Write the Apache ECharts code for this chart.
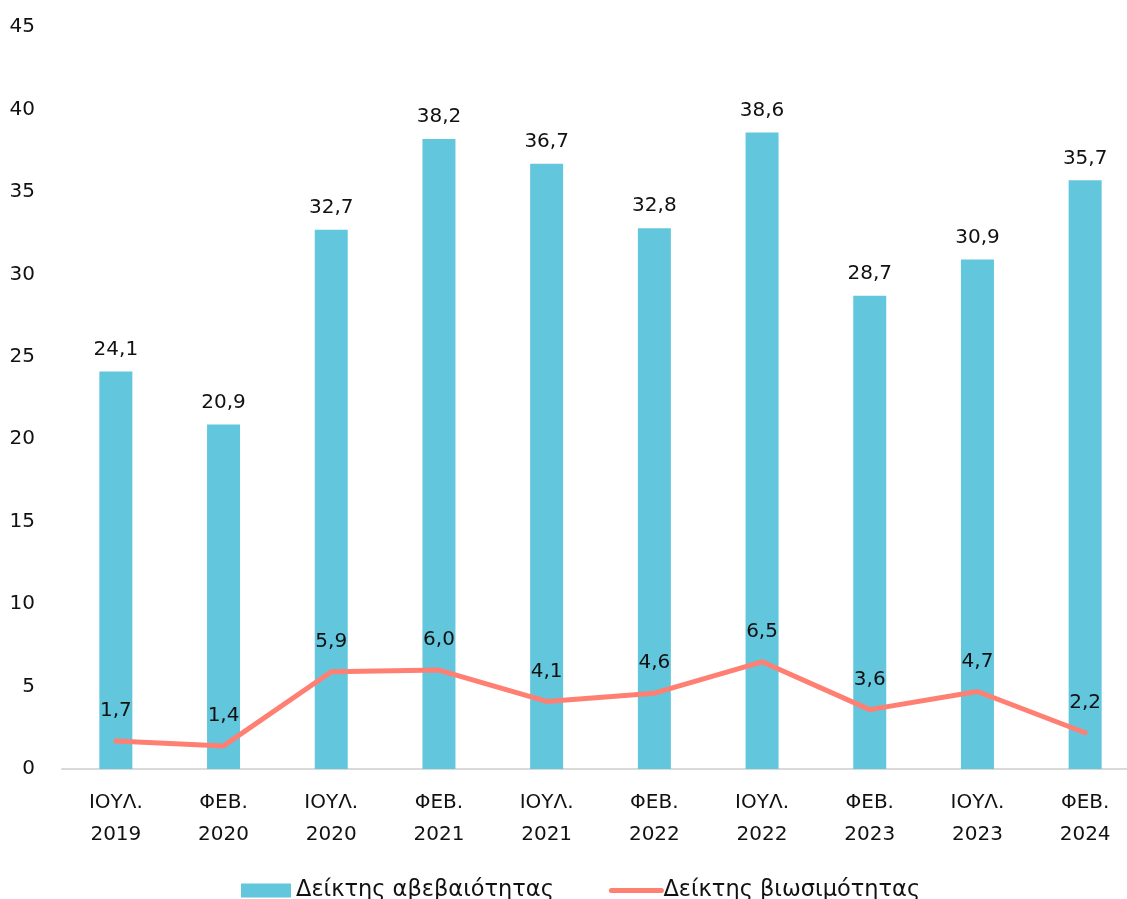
<!DOCTYPE html>
<html><head><meta charset="utf-8">
<script src="https://cdn.jsdelivr.net/npm/echarts@6/dist/echarts.min.js"></script>
<style>html,body{margin:0;padding:0;background:#fff}#c{width:1127px;height:899px}</style>
</head><body><div id="c"></div>
<script>
const categories = ['ΙΟΥΛ.\n2019','ΦΕΒ.\n2020','ΙΟΥΛ.\n2020','ΦΕΒ.\n2021','ΙΟΥΛ.\n2021','ΦΕΒ.\n2022','ΙΟΥΛ.\n2022','ΦΕΒ.\n2023','ΙΟΥΛ.\n2023','ΦΕΒ.\n2024'];
const uncertainty = [24.1,20.9,32.7,38.2,36.7,32.8,38.6,28.7,30.9,35.7];
const sustainability = [1.7,1.4,5.9,6.0,4.1,4.6,6.5,3.6,4.7,2.2];
const seriesNames = ['Δείκτης αβεβαιότητας','Δείκτης βιωσιμότητας'];
const fmt = p => p.value.toFixed(1).replace('.', ',');
const FONT = 'DejaVu Sans';
const chart = echarts.init(document.getElementById('c'));
chart.setOption({
  animation:false,
  textStyle:{fontFamily:FONT, color:'#111'},
  grid:{left:62, top:27, width:1077, height:742, outerBoundsMode:'none', containLabel:false},
  legend:{top:879, left:241, padding:0, itemGap:55, itemWidth:50, itemHeight:14,
    textStyle:{fontFamily:FONT, fontSize:22.5, color:'#111'},
    lineStyle:{width:5, cap:'round'},
    data:[{name:seriesNames[0], icon:'rect'},
          {name:seriesNames[1], itemStyle:{opacity:0}, textStyle:{padding:[0,0,0,-3]}}]},
  xAxis:{type:'category', data:categories,
    axisLine:{lineStyle:{color:'#d9d9d9', width:2}}, axisTick:{show:false},
    axisLabel:{fontSize:20, color:'#111', lineHeight:32, margin:18, interval:0}},
  yAxis:{type:'value', min:0, max:45, interval:5, splitLine:{show:false},
    axisLabel:{fontSize:20, color:'#111', margin:27}},
  series:[
    {name:seriesNames[0], type:'bar', data:uncertainty, barWidth:33,
     itemStyle:{color:'#62C6DD'},
     label:{show:true, position:'top', distance:12, fontSize:20, color:'#111', formatter:fmt}},
    {name:seriesNames[1], type:'line', data:sustainability, symbol:'circle', symbolSize:0.1,
     lineStyle:{color:'#FF7F73', width:5, cap:'round'}, itemStyle:{color:'#FF7F73'},
     label:{show:true, position:'top', distance:20, fontSize:20, color:'#111', formatter:fmt}}
  ]
});
</script></body></html>
